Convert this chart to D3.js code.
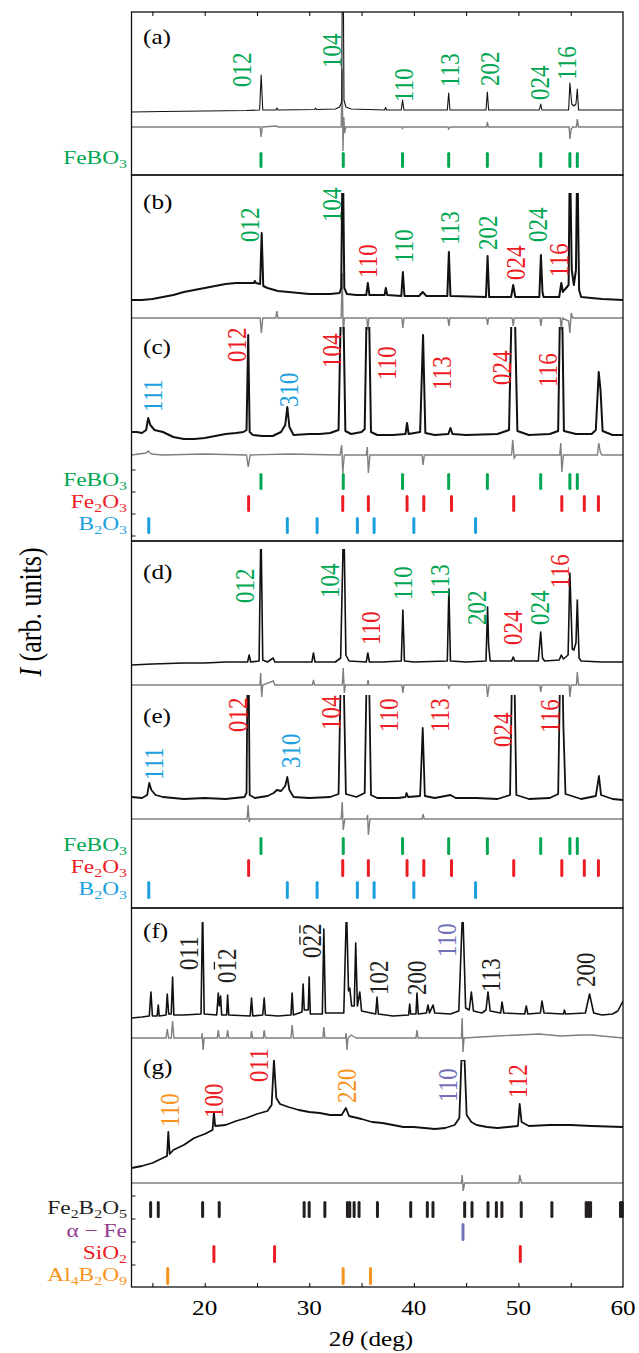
<!DOCTYPE html>
<html>
<head>
<meta charset="utf-8">
<script src="https://cdn.jsdelivr.net/npm/d3@7"></script>
<style>
body { margin: 0; background: #fff; }
svg text { font-family: "Liberation Serif", "Times New Roman", serif; }
</style>
</head>
<body>
<svg id="fig" width="639" height="1353"></svg>
<script>
// x axis
var xDomain = [13, 60];
var xTickLabels = [20, 30, 40, 50, 60];
var xTicks = [15, 20, 25, 30, 35, 40, 45, 50, 55];

// reference reflections (2theta, deg)
var feBO3Ticks = [25.38, 33.25, 38.92, 43.33, 47.03, 52.13, 54.92, 55.63];
var fe2O3Ticks = [24.2, 33.2, 35.65, 39.35, 40.95, 43.6, 49.55, 54.15, 56.3, 57.65];
var b2O3Ticks = [14.65, 27.9, 30.75, 34.6, 36.2, 40.0, 45.9];
var fe2B2O5Ticks = [14.83, 15.56, 19.8, 21.39, 29.51, 29.99, 31.49, 33.65, 33.87, 34.29, 34.76, 36.52,
  39.7, 41.29, 41.83, 44.86, 45.56, 47.09, 47.89, 48.42, 50.27, 53.2, 56.48, 56.7, 56.9, 59.76, 59.92];
var alphaFeTicks = [44.7];
var siO2Ticks = [20.88, 26.68, 50.18];
var al4B2O9Ticks = [16.46, 33.24, 35.85];

// measured patterns [2theta, intensity] and difference curves
var obsA = [[13,-2],[16,-1.5],[20,-1],[24,-0.5],[25.25,0],[25.4,35],[25.55,0],[26.8,0],[26.9,2],[27,0],[30.5,0.5],[30.6,2],[30.7,0.5],
  [32.5,1],[32.9,3],[33.1,8],[33.2,220],[33.32,10],[33.5,3],[34,1],[37.2,0],[37.3,2.5],[37.4,0],[38.8,0],[38.92,10],[39.05,0],
  [43.2,0],[43.33,17],[43.45,0],[46.9,0],[47.03,18],[47.15,0],[52,0],[52.13,6],[52.25,0],[54.8,0],[54.92,27],[55.1,6],[55.3,4],
  [55.5,6],[55.63,21],[55.75,0],[60,0]];
var diffA = [[13,0],[25.3,0],[25.4,-10],[25.5,0],[26.9,1],[27,0],[33.05,0],[33.15,58],[33.22,-24],[33.3,10],[33.38,-6],[33.5,0],
  [38.85,0],[38.92,-1.5],[39,0],[43.25,0],[43.33,-2],[43.45,0],[46.95,0],[47.03,5],[47.12,0],[54.85,0],[54.92,-12],[55.05,-2],
  [55.2,0],[55.55,0],[55.63,8],[55.75,0],[60,0]];

var obsB = [[13,0],[14,0],[15,1],[16,3],[17,5],[18,8],[19,10],[20,12],[21,14],[22,16],[23,17],[24,17],[24.7,17],[24.8,19],[24.9,17],
  [25.3,16],[25.45,67],[25.6,14],[26,12],[27,9],[28,8],[29,7],[30,6],[31,6],[32,6],[32.9,7],[33.05,12],[33.2,160],[33.35,12],
  [33.6,6],[34.5,5],[35.45,5],[35.6,17],[35.75,5],[36.5,5],[37.2,5],[37.32,12],[37.45,5],[38.8,4],[38.95,28],[39.1,4],[40.5,4],
  [40.85,8],[41.2,4],[43.2,4],[43.35,48],[43.5,4],[46.9,3],[47.05,44],[47.2,3],[49.3,3],[49.5,15],[49.7,3],[52,3],[52.15,45],
  [52.3,8],[52.4,3],[53.9,3],[54.1,17],[54.25,8],[54.4,10],[54.8,15],[54.92,150],[55.1,30],[55.3,15],[55.5,30],[55.63,150],
  [55.8,10],[56,3],[58,1],[60,0]];
var diffB = [[13,0],[25.3,0],[25.42,-15],[25.55,0],[26.8,0],[26.9,7],[27,0],[33.05,0],[33.15,45],[33.25,-17],[33.35,0],[35.5,0],
  [35.6,-12],[35.7,0],[38.85,0],[38.95,-10],[39.05,0],[43.25,0],[43.35,-8],[43.45,0],[46.95,0],[47.05,-7],[47.15,0],[49.4,0],
  [49.5,-8],[49.6,0],[52.05,0],[52.15,-8],[52.25,0],[54,0],[54.1,-12],[54.2,0],[54.8,-3],[54.92,-15],[55.05,5],[55.2,0],[60,0]];

var obsC = [[13,3],[13.5,3],[14,2],[14.4,5],[14.6,17],[14.8,10],[15.2,5],[16,3],[17,-2],[18,-4],[19,-4],[20,-3],[21,-1],[22,1],
  [23,2],[23.7,3],[24,5],[24.16,100],[24.3,3],[24.6,0],[25.5,-1],[26.5,-1],[27.3,3],[27.7,10],[27.9,28],[28.1,8],[28.5,0],[30,1],
  [31,1],[32,2],[32.8,5],[33.15,200],[33.45,4],[34,1],[35,3],[35.3,6],[35.6,200],[35.9,3],[36.5,0],[38,0],[39.2,1],[39.35,12],
  [39.5,1],[40.6,3],[40.88,100],[41.1,2],[42,0],[43.3,1],[43.5,7],[43.7,1],[45,0],[48,1],[49.1,5],[49.5,200],[49.9,4],[51,0],
  [53,1],[53.8,4],[54.08,200],[54.35,4],[55.5,1],[57,1],[57.4,5],[57.68,63],[57.85,45],[58.05,4],[59,0],[60,0]];
var diffC = [[13,0],[14.4,2],[14.6,4],[14.9,1],[16,0],[20,1],[24,0],[24.16,-12],[24.35,0],[28,1],[32.95,0],[33.1,10],[33.2,-18],
  [33.35,0],[35.45,0],[35.55,8],[35.65,-18],[35.8,0],[40.78,0],[40.88,-10],[41,0],[49.35,0],[49.45,15],[49.6,-3],[49.75,0],
  [53.95,0],[54.05,12],[54.15,-17],[54.3,0],[57.55,0],[57.68,12],[57.85,2],[58,0],[60,0]];

var obsD = [[13,-2],[15,-1],[18,0],[20,0],[22,1],[24.1,1],[24.25,8],[24.4,1],[25.2,2],[25.38,140],[25.55,3],[26,1],[26.55,5],
  [26.7,1],[28,1],[30.25,1],[30.4,10],[30.55,1],[32.5,1],[33,5],[33.3,150],[33.5,8],[33.8,2],[35.45,1],[35.6,10],[35.75,1],
  [37,1],[38.8,2],[38.95,53],[39.1,2],[40,1],[43.2,2],[43.35,74],[43.5,2],[45,1],[46.9,2],[47.05,56],[47.15,18],[47.3,2],
  [49.35,2],[49.5,6],[49.65,2],[51.9,2],[52.13,31],[52.3,5],[52.5,2],[53.9,3],[54.1,8],[54.3,4],[54.75,8],[54.92,90],[55.15,14],
  [55.3,13],[55.5,20],[55.63,63],[55.8,5],[56,2],[58,1],[60,1]];
var diffD = [[13,0],[25.28,0],[25.35,12],[25.45,-12],[25.55,0],[26.55,4],[26.7,0],[30.3,0],[30.4,5],[30.5,0],[33.15,0],
  [33.25,17],[33.35,-8],[33.45,0],[35.55,0],[35.62,5],[35.7,0],[38.85,0],[38.95,-8],[39.05,0],[43.25,0],[43.35,-3],[43.45,0],
  [46.95,0],[47.05,-12],[47.2,0],[52.05,0],[52.13,-7],[52.25,0],[54.85,0],[54.92,-12],[55.05,0],[55.55,0],[55.63,13],[55.75,0],[60,0]];

var obsE = [[13,1],[14,0],[14.5,3],[14.7,15],[14.9,8],[15.3,3],[16,1],[18,-1],[20,0],[22,-1],[23.8,1],[24,5],[24.15,200],
  [24.3,3],[24.8,0],[26,2],[26.6,5],[26.9,8],[27.3,7],[27.7,12],[27.9,21],[28.1,8],[28.5,1],[30,0],[32,1],[32.8,4],[33.15,200],
  [33.5,4],[34.5,1],[35.3,5],[35.6,200],[35.9,3],[36.5,0],[38.5,0],[39.2,1],[39.3,5],[39.45,1],[40.6,2],[40.85,70],[41.05,2],
  [42,0],[43.5,3],[44,0],[46,0],[48,-1],[49.2,3],[49.5,200],[49.8,3],[51,-1],[53,0],[53.8,4],[54.1,200],[54.3,72],[54.5,4],
  [56,-1],[57.4,2],[57.7,22],[57.9,3],[59,-1],[60,-2]];
var diffE = [[13,0],[24.05,0],[24.15,14],[24.25,-3],[24.35,0],[33.05,0],[33.15,17],[33.25,-11],[33.4,0],[35.5,0],[35.58,4],
  [35.65,-16],[35.8,0],[40.8,0],[40.88,5],[41,0],[60,0]];

var obsF = [[13,-2],[14,-1],[14.7,0],[14.86,24],[15,0],[15.45,0],[15.56,11],[15.65,0],[16.3,1],[16.42,22],[16.55,2],[16.8,2],
  [16.93,39],[17.05,1],[18,1],[19.65,2],[19.8,110],[19.95,2],[21.15,1],[21.3,23],[21.4,10],[21.52,20],[21.62,1],[22.1,1],
  [22.19,21],[22.3,1],[24.35,0],[24.48,18],[24.6,0],[25.55,1],[25.69,18],[25.8,1],[27,0],[28.25,1],[28.36,23],[28.48,1],
  [29.3,4],[29.41,32],[29.52,6],[29.9,6],[29.99,39],[30.1,2],[31.25,2],[31.39,87],[31.55,3],[33.3,3],[33.56,110],[33.75,25],
  [33.87,28],[34.05,10],[34.3,10],[34.44,73],[34.6,10],[34.83,24],[35,5],[36.35,2],[36.48,19],[36.6,2],[38,0],[39.5,1],
  [39.6,12],[39.7,2],[40.2,2],[40.3,23],[40.42,2],[41.2,3],[41.35,11],[41.5,3],[41.83,11],[42,3],[43.5,2],[44.3,5],[44.67,110],
  [44.95,8],[45.3,6],[45.5,24],[45.7,5],[46.5,3],[46.9,6],[47.09,24],[47.3,5],[48.3,3],[48.43,14],[48.6,3],[50.6,2],[50.75,10],
  [50.9,2],[52.1,3],[52.25,15],[52.45,3],[54.3,2],[54.4,6],[54.5,2],[56.4,3],[56.8,22],[57.2,3],[58,1],[59,2],[59.5,5],[60,15]];
var diffF = [[13,0],[16.3,0],[16.42,9],[16.55,0],[16.8,0],[16.93,17],[17.05,0],[19.7,0],[19.75,5],[19.85,-12],[19.95,0],
  [21.2,0],[21.3,8],[21.4,0],[22.1,0],[22.19,8],[22.3,0],[24.4,0],[24.48,7],[24.58,0],[25.6,0],[25.69,8],[25.8,0],[28.25,0],
  [28.36,13],[28.48,0],[31.3,0],[31.39,11],[31.5,0],[33.45,0],[33.52,5],[33.6,-12],[33.7,0],[34,3],[34.5,0],[40.2,0],[40.3,8],
  [40.4,0],[44.55,0],[44.62,20],[44.7,-14],[44.8,0],[48,2],[50,3],[52,4],[54,2],[56,3],[57,3],[60,0]];

var obsG = [[13,2],[14,4],[15,7],[16,12],[16.4,14],[16.52,38],[16.65,16],[17,20],[18,25],[19,32],[20,36],[20.75,40],[20.88,58],
  [21,44],[22,45],[23,49],[24,52],[25,56],[26,59],[26.4,65],[26.62,110],[26.85,72],[27.2,66],[28,63],[29,60],[30,58],[31,57],
  [32,55],[33.1,55],[33.5,62],[33.8,54],[35,51],[36,48],[37,47],[38,45],[39,43],[40,43],[41,42],[42,41],[43,42],[43.9,45],
  [44.35,52],[44.55,110],[44.85,110],[45.05,55],[45.5,48],[46,45],[47,43],[48,42],[49,43],[49.95,44],[50.12,66],[50.3,48],
  [51,44],[53,45],[55,45],[57,44],[60,43]];
var diffG = [[13,0],[44.55,0],[44.62,8],[44.72,-8],[44.85,0],[50.05,0],[50.12,8],[50.3,0],[60,0]];

// peak labels [hkl, phase, 2theta, intensity]  ("~" puts a bar over the next digit)
var labelsA = [["012","FeBO3",23.53,23],["104","FeBO3",32.09,42],["110","FeBO3",39.02,8],["113","FeBO3",43.43,23],
  ["202","FeBO3",47.25,24],["024","FeBO3",52.03,10],["116","FeBO3",54.57,30]];
var labelsB = [["012","FeBO3",24.32,58],["104","FeBO3",32.12,78],["110","Fe2O3",35.56,22],["110","FeBO3",39.0,37],
  ["113","FeBO3",43.43,55],["202","FeBO3",47.09,50],["024","Fe2O3",49.7,20],["024","FeBO3",51.86,58],["116","Fe2O3",53.84,23]];
var labelsC = [["111","B2O3",15.0,23],["012","Fe2O3",23.05,73],["310","B2O3",27.98,28],["104","Fe2O3",32.09,67],
  ["110","Fe2O3",37.38,55],["113","Fe2O3",42.63,45],["024","Fe2O3",48.37,50],["116","Fe2O3",52.82,48]];
var labelsD = [["012","FeBO3",23.85,60],["104","FeBO3",31.93,65],["110","Fe2O3",35.89,18],["110","FeBO3",38.97,63],
  ["113","FeBO3",42.43,65],["202","FeBO3",46.0,38],["024","Fe2O3",49.43,18],["024","FeBO3",52.04,38],["116","Fe2O3",53.93,75]];
var labelsE = [["111","B2O3",15.12,18],["012","Fe2O3",23.12,66],["310","B2O3",28.2,30],["104","Fe2O3",32.05,68],
  ["110","Fe2O3",37.63,66],["113","Fe2O3",42.51,66],["024","Fe2O3",48.47,51],["116","Fe2O3",53.0,65]];
var labelsF = [["011","Fe2B2O5",18.49,46],["0~12","Fe2B2O5",22.09,33],["0~2~2","Fe2B2O5",30.27,58],["102","Fe2B2O5",36.64,21],
  ["200","Fe2B2O5",40.3,21],["110","alphaFe",43.17,59],["113","Fe2B2O5",47.31,24],["200","Fe2B2O5",56.39,29]];
var labelsG = [["110","Al4B2O9",16.66,43],["100","SiO2",20.89,52],["011","SiO2",25.12,88],["220","Al4B2O9",33.55,67],
  ["110","alphaFe",43.2,68],["112","SiO2",49.93,72]];

// phase names, "_" marks a subscript
var phases = {
  FeBO3:   {name: "FeBO_3",    color: "#00a651", ticks: feBO3Ticks},
  Fe2O3:   {name: "Fe_2O_3",   color: "#ed1c24", ticks: fe2O3Ticks},
  B2O3:    {name: "B_2O_3",    color: "#1a9fdf", ticks: b2O3Ticks},
  Fe2B2O5: {name: "Fe_2B_2O_5", color: "#231f20", ticks: fe2B2O5Ticks},
  alphaFe: {name: "\u03b1 \u2212 Fe", color: "#7470b8", nameColor: "#92398f", ticks: alphaFeTicks},
  SiO2:    {name: "SiO_2",     color: "#ed1c24", ticks: siO2Ticks},
  Al4B2O9: {name: "Al_4B_2O_9", color: "#f7941d", ticks: al4B2O9Ticks}
};

// ---- layout ----
var left = 131.5, right = 623;
var stretch = 1.2;   // glyphs in the figure are wider than tall
var labelSize = 23;
var frames = [[12, 175], [175, 541], [541, 908], [908, 1287]];
var rows = [
  [["FeBO3", 152, 168]],
  [["FeBO3", 473, 490], ["Fe2O3", 495, 512], ["B2O3", 517, 534]],
  [["FeBO3", 837, 855], ["Fe2O3", 859, 877], ["B2O3", 881, 899]],
  [["Fe2B2O5", 1201, 1218], ["alphaFe", 1223, 1241], ["SiO2", 1245, 1263], ["Al4B2O9", 1267, 1285]]
];
var leftTicks = [470, 492, 514, 536, 1196, 1219, 1242, 1265];

var panels = [
  {name: "(a)", obs: obsA, diff: diffA, labels: labelsA, base: 110, diffBase: 127, clipTop: 12, frame: 0, labelY: 44, lw: 1.1},
  {name: "(b)", obs: obsB, diff: diffB, labels: labelsB, base: 300, diffBase: 318, clipTop: 193, frame: 1, labelY: 209, lw: 2},
  {name: "(c)", obs: obsC, diff: diffC, labels: labelsC, base: 435, diffBase: 455, clipTop: 327, frame: 1, labelY: 354, lw: 2},
  {name: "(d)", obs: obsD, diff: diffD, labels: labelsD, base: 663, diffBase: 685, clipTop: 549, frame: 2, labelY: 579, lw: 1.6},
  {name: "(e)", obs: obsE, diff: diffE, labels: labelsE, base: 798, diffBase: 819, clipTop: 695, frame: 2, labelY: 723, lw: 1.8},
  {name: "(f)", obs: obsF, diff: diffF, labels: labelsF, base: 1016, diffBase: 1038, clipTop: 922, frame: 3, labelY: 938, lw: 1.6},
  {name: "(g)", obs: obsG, diff: diffG, labels: labelsG, base: 1170, diffBase: 1183, clipTop: 1060, frame: 3, labelY: 1074, lw: 1.8}
];

var svg = d3.select("#fig");
var x = d3.scaleLinear().domain(xDomain).range([left, right]);

// write "Fe_2O_3" style text with subscripts
function chem(sel, str) {
  var parts = str.split(/(_\d)/);
  var down = false;
  parts.forEach(function(p) {
    if (!p) return;
    if (p[0] == "_") {
      sel.append("tspan").attr("dy", "0.28em").attr("font-size", "0.68em").text(p[1]);
      down = true;
    } else {
      sel.append("tspan").attr("dy", down ? "-0.19em" : null).text(p);
      down = false;
    }
  });
}

panels.forEach(function(p, i) {
  var fb = frames[p.frame][1];
  var y = d3.scaleLinear().domain([0, 100]).range([p.base, p.base - 100]);
  var yd = d3.scaleLinear().domain([0, 100]).range([p.diffBase, p.diffBase - 100]);

  svg.append("clipPath").attr("id", "clip" + i)
    .append("rect").attr("x", left).attr("y", p.clipTop).attr("width", right - left).attr("height", fb - p.clipTop);

  var g = svg.append("g").attr("clip-path", "url(#clip" + i + ")");

  g.append("path")
    .attr("d", d3.line().x(d => x(d[0])).y(d => yd(d[1]))(p.diff))
    .attr("fill", "none").attr("stroke", "#7f7f7f").attr("stroke-width", 1.4);

  g.append("path")
    .attr("d", d3.line().x(d => x(d[0])).y(d => y(d[1]))(p.obs))
    .attr("fill", "none").attr("stroke", "#111").attr("stroke-width", p.lw)
    .attr("stroke-linejoin", "round");

  // hkl labels, rotated; bars drawn as short lines over the digit
  p.labels.forEach(function(l) {
    var col = phases[l[1]].color;
    var lg = svg.append("g")
      .attr("transform", `translate(${x(l[2])},${y(l[3])}) scale(${stretch},1) rotate(-90)`);
    var digits = l[0].replace(/~/g, "");
    lg.append("text")
      .attr("dy", "0.34em")
      .attr("font-size", labelSize)
      .attr("fill", col)
      .text(digits);
    var idx = 0;
    for (var k = 0; k < l[0].length; k++) {
      if (l[0][k] == "~") {
        lg.append("line")
          .attr("x1", (idx * 0.5 + 0.08) * labelSize).attr("x2", (idx * 0.5 + 0.42) * labelSize)
          .attr("y1", -0.44 * labelSize).attr("y2", -0.44 * labelSize)
          .attr("stroke", col).attr("stroke-width", 1.1);
      } else {
        idx++;
      }
    }
  });

  svg.append("text")
    .attr("transform", `translate(143,${p.labelY}) scale(${stretch},1)`)
    .attr("font-size", 21)
    .text(p.name);
});

// reference tick rows
rows.forEach(function(fr) {
  fr.forEach(function(r) {
    var ph = phases[r[0]];
    svg.append("g").selectAll("line")
      .data(ph.ticks)
      .enter().append("line")
      .attr("x1", d => x(d)).attr("x2", d => x(d))
      .attr("y1", r[1] + 1.5).attr("y2", r[2] - 1.5)
      .attr("stroke", ph.color).attr("stroke-width", 3).attr("stroke-linecap", "round");

    var t = svg.append("text")
      .attr("transform", `translate(127,${r[2] - 4}) scale(${stretch},1)`)
      .attr("text-anchor", "end")
      .attr("font-size", 19.5)
      .attr("fill", ph.nameColor || ph.color);
    chem(t, ph.name);
  });
});

// frames
frames.forEach(function(f) {
  svg.append("rect")
    .attr("x", left).attr("y", f[0]).attr("width", right - left).attr("height", f[1] - f[0])
    .attr("fill", "none").attr("stroke", "#111").attr("stroke-width", 1.3);
});

svg.append("g").selectAll("line").data(leftTicks).enter().append("line")
  .attr("x1", left).attr("x2", left + 4).attr("y1", d => d).attr("y2", d => d)
  .attr("stroke", "#111").attr("stroke-width", 1);

// axes: inward ticks on top and bottom
var bottomAxis = d3.axisBottom(x).tickValues(xTicks).tickSizeInner(-4).tickSizeOuter(0).tickFormat("");
var topAxis = d3.axisTop(x).tickValues(xTicks).tickSizeInner(-4).tickSizeOuter(0).tickFormat("");
svg.append("g").attr("transform", `translate(0,${frames[3][1]})`).call(bottomAxis)
  .call(g => g.select(".domain").remove());
svg.append("g").attr("transform", `translate(0,${frames[0][0]})`).call(topAxis)
  .call(g => g.select(".domain").remove());

svg.append("g").selectAll("text").data(xTickLabels).enter().append("text")
  .attr("transform", d => `translate(${x(d)},1315) scale(${stretch},1)`)
  .attr("text-anchor", "middle")
  .attr("font-size", 21)
  .text(d => d);

var xt = svg.append("text")
  .attr("transform", `translate(371,1346) scale(${stretch},1)`)
  .attr("text-anchor", "middle")
  .attr("font-size", 21);
xt.append("tspan").text("2");
xt.append("tspan").attr("font-style", "italic").text("\u03b8");
xt.append("tspan").text(" (deg)");

var yt = svg.append("text")
  .attr("transform", `translate(41,612) scale(${stretch},1) rotate(-90)`)
  .attr("text-anchor", "middle")
  .attr("font-size", 26);
yt.append("tspan").attr("font-style", "italic").text("I");
yt.append("tspan").text(" (arb. units)");
</script>
</body>
</html>
